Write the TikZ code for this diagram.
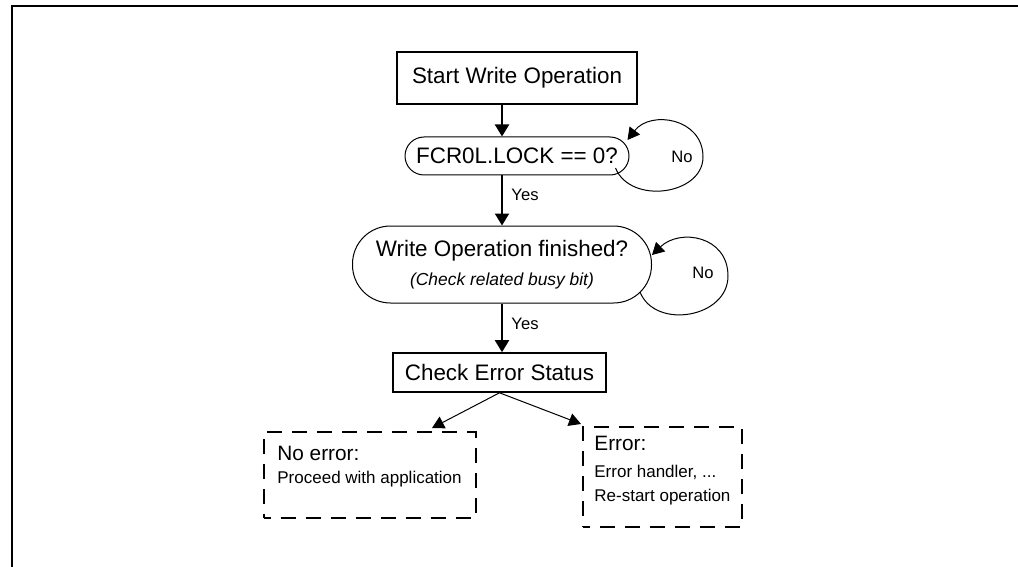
\documentclass[tikz,border=0pt]{standalone}
\usepackage{fontspec}
\setmainfont{Liberation Sans}
\usetikzlibrary{arrows.meta}

\tikzset{
  stepbox/.style={draw, line width=0.8pt, inner sep=0pt, font=\fontsize{11.2}{13.4}\selectfont},
  testbox/.style={draw, line width=0.5pt, inner sep=0pt, font=\fontsize{11.2}{13.4}\selectfont},
  endbox/.style={draw, line width=1pt, dash pattern=on 7.5pt off 5pt, dash phase=4pt, inner sep=0pt},
  flow/.style={-{Triangle[length=6pt,width=7pt]}, line width=1pt},
  thinflow/.style={-{Triangle[length=6pt,width=6.5pt]}, line width=0.5pt},
  lbl/.style={font=\fontsize{8.3}{10}\selectfont, inner sep=0pt},
  bigtxt/.style={font=\fontsize{10.4}{12}\selectfont, inner sep=0pt, anchor=west},
  smalltxt/.style={font=\fontsize{8.5}{10}\selectfont, inner sep=0pt, anchor=west},
}

\begin{document}
\begin{tikzpicture}[x=0.5pt, y=-0.5pt]
\useasboundingbox (0,0) rectangle (1018,567);
% frame
\draw[line width=1pt] (12,567) -- (12,6) -- (1018,6);

% main column
\node[stepbox, minimum width=120pt, minimum height=26pt] (start) at (517,78) {Start Write Operation};
\node[testbox, rounded corners=9.5pt, minimum width=112pt, minimum height=19pt] (lock) at (517,156) {FCR0L.LOCK == 0?};
\node[testbox, rounded corners=19pt, minimum width=149.5pt, minimum height=38.5pt, align=center] (wrdone) at (502,264.5)
  {Write Operation finished?\\[1pt]{\fontsize{8.7}{10}\selectfont\itshape (Check related busy bit)}};
\node[stepbox, minimum width=106.5pt, minimum height=19.5pt] (check) at (499.5,372.5) {Check Error Status};

\draw[flow] (start.south -| wrdone) -- (lock.north -| wrdone);
\draw[flow] (lock.south -| wrdone) -- (wrdone.north);
\draw[flow] (wrdone.south) -- (check.north -| wrdone);

\node[lbl] (yes1) at (525,195) {Yes};
\node[lbl] (yes2) at (525,324) {Yes};
\node[lbl] (no1) at (682,157) {No};
\node[lbl] (no2) at (703,273) {No};

% wait loops
\coordinate (lockloop) at (703,157);
\draw[thinflow] ([shift={(-14,12)}]lock.east) .. controls +(15,37) and +(0,38) .. (lockloop)
  .. controls +(0,-39) and +(23,-30) .. ([shift={(-2,-16)}]lock.east);
\coordinate (wrloop) at (728,276);
\draw[thinflow] ([shift={(-12,27.5)}]wrdone.east) .. controls +(15,38) and +(0,42) .. (wrloop)
  .. controls +(0,-40) and +(28,-27) .. ([shift={(0,-9.5)}]wrdone.east);

% results
\node[endbox, minimum width=106pt, minimum height=43pt] (noerr) at (369.5,475) {};
\node[endbox, minimum width=79.5pt, minimum height=50pt] (err) at (662.5,477) {};
\node[bigtxt] (noerrhead) at (277,453) {No error:};
\node[smalltxt] (noerrtxt) at (277,479) {Proceed with application};
\node[bigtxt] (errhead) at (594,443) {Error:};
\node[smalltxt] (errtxt1) at (594,472) {Error handler, ...};
\node[smalltxt] (errtxt2) at (594,497) {Re-start operation};

\draw[thinflow] (check.south) -- ([shift={(62.5,-3)}]noerr.north);
\draw[thinflow] (check.south) -- ([shift={(-1,-2)}]err.north west);
\end{tikzpicture}
\end{document}
